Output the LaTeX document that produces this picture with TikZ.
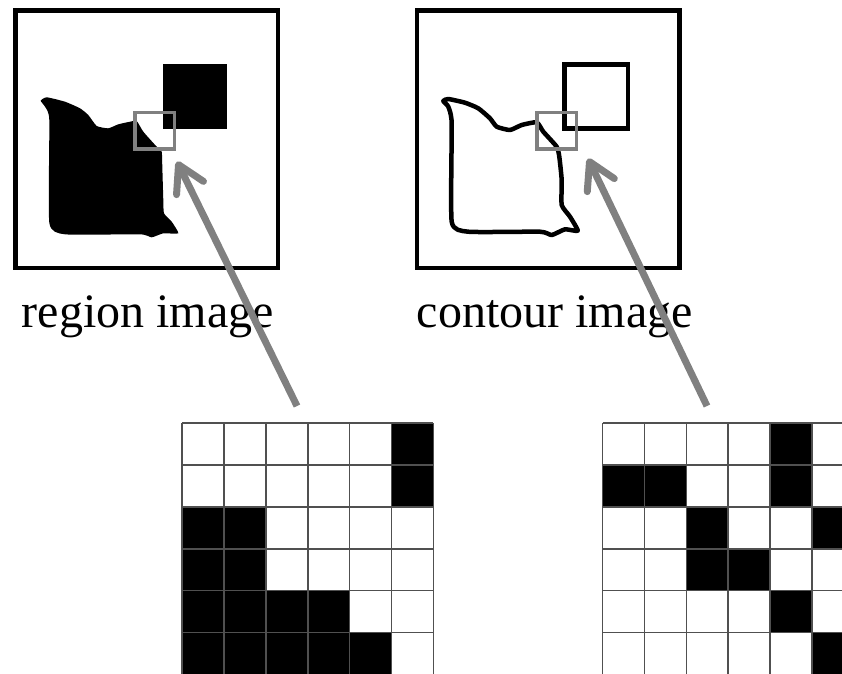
\documentclass[tikz,border=0pt]{standalone}
\usepackage{fontspec}
\setmainfont{Liberation Serif}
\usetikzlibrary{arrows.meta}

\definecolor{zoomgray}{RGB}{128,128,128}
\definecolor{gridgray}{RGB}{80,80,80}

\begin{document}
\begin{tikzpicture}[
    x=1pt, y=-1pt,
    frame/.style={rectangle, draw, line width=4.5pt, minimum width=262.5pt, minimum height=257.5pt, inner sep=0pt},
    obj/.style={rectangle, inner sep=0pt, minimum width=64pt, minimum height=65pt},
    zoombox/.style={rectangle, draw=zoomgray, line width=3.5pt, minimum width=39.5pt, minimum height=36.5pt, inner sep=0pt},
    imgtext/.style={anchor=base west, inner sep=0pt, font=\fontsize{48}{56}\selectfont},
    arrow/.style={draw=zoomgray, line width=7pt, -{Straight Barb[length=26pt, width=30pt, round]}},
    gridline/.style={draw=gridgray, line width=1.6pt}
]
\useasboundingbox (0,0) rectangle (842,673);
\clip (0,0) rectangle (842,673);

% Left: region image
\node[frame] (regionbox) at (146.5,139) {};
\node[obj, fill=black] (regionsq) at (195.3,96.2) {};
\fill[black, line join=round] plot[smooth cycle, tension=0.3] coordinates {
    (40.7,100.7) (46.7,97.3) (65,101.7) (80,108.3) (88.3,115) (96.7,126)
    (108.3,128.3) (118.3,124.3) (130,121.7) (136.7,121) (143.3,131.7)
    (156.7,146.7) (161.7,151.7) (162.3,166.7) (163.3,200) (164,213.3)
    (171.7,221.7) (178.3,233.3) (163.3,233.3) (151.7,237.3) (140,234.3)
    (65,234.3) (49.3,222.7) (49.3,120) (45,106.7)};
\node[zoombox] (regionzoom) at (154.8,130.8) {};
\node[imgtext] (regionlbl) at (21.7,327.7) {region image};

% Right: contour image
\node[frame] (contourbox) at (548.3,139) {};
\node[obj, draw, line width=4.6pt, minimum width=63.3pt, minimum height=64.2pt] (contoursq) at (596.2,96.6) {};
\draw[line width=4.5pt, line join=round] plot[smooth cycle, tension=0.3] coordinates {
    (443.3,101) (448.3,99) (465,102.7) (478.3,108.3) (490,118.3) (496.7,126.7)
    (510,130) (521.7,125) (536.7,122.3) (543.3,131.7) (556.7,146.7)
    (559.3,156.7) (561.7,180) (561.7,205) (570,216.7) (577.7,230.7)
    (565,229.3) (551.7,235) (540,231.7) (468.3,231.7) (451.7,221.7)
    (451.7,123.3) (448.3,106.7)};
\node[zoombox] (contourzoom) at (556.7,130.8) {};
\node[imgtext] (contourlbl) at (416.7,327.7) {contour image};

% Bottom left: region pixels
\foreach \c/\r in {6/1,6/2,1/3,2/3,1/4,2/4,1/5,2/5,3/5,4/5,1/6,2/6,3/6,4/6,5/6}
    \fill (182+41.9*\c-41.9, 423+41.9*\r-41.9) rectangle ++(41.9,41.9);
\foreach \i in {0,...,6} {
    \draw[gridline] (182+41.9*\i,423) -- ++(0,260);
    \draw[gridline] (182,423+41.9*\i) -- ++(251.4,0);
}

% Bottom right: contour pixels
\foreach \c/\r in {5/1,1/2,2/2,5/2,3/3,6/3,3/4,4/4,5/5,6/6}
    \fill (602.5+41.9*\c-41.9, 423+41.9*\r-41.9) rectangle ++(41.9,41.9);
\foreach \i in {0,...,6} {
    \draw[gridline] (602.5+41.9*\i,423) -- ++(0,260);
    \draw[gridline] (602.5,423+41.9*\i) -- ++(251.4,0);
}

% Zoom arrows
\coordinate (regiontail) at (297,406);
\coordinate (regiontip) at (177,161.5);
\coordinate (contourtail) at (707,406);
\coordinate (contourtip) at (588,158.5);
\draw[arrow] (regiontail) -- (regiontip);
\draw[arrow] (contourtail) -- (contourtip);

\end{tikzpicture}
\end{document}
